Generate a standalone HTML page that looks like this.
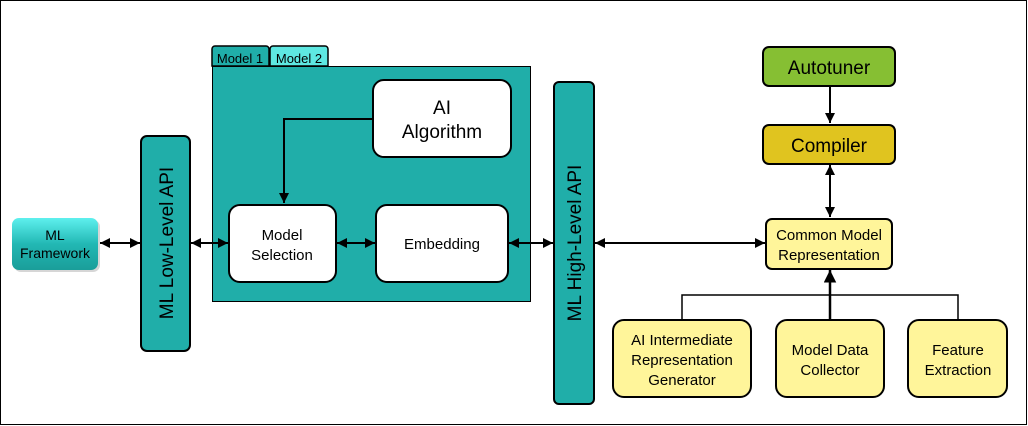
<!DOCTYPE html>
<html><head><meta charset="utf-8"><style>
html,body{margin:0;padding:0;background:#fff}
svg{display:block}
text{font-family:"Liberation Sans",Arial,sans-serif;fill:#000}
</style></head><body>
<svg width="1028" height="426" viewBox="0 0 1028 426" xmlns="http://www.w3.org/2000/svg">
<defs>
<marker id="a" viewBox="0 0 10 10" refX="10" refY="5" markerWidth="5" markerHeight="5" orient="auto-start-reverse"><path d="M0,0L10,5L0,10z" fill="#000"/></marker>
<linearGradient id="g" x1="0" y1="0" x2="0" y2="1"><stop offset="0" stop-color="#5ef0ee"/><stop offset="0.5" stop-color="#22b8b4"/><stop offset="1" stop-color="#1a9e9a"/></linearGradient>
</defs>
<rect x="0.5" y="0.5" width="1026" height="424" fill="#fff" stroke="#000"/>
<rect x="14" y="220" width="86" height="52" rx="7" fill="#999" opacity="0.4"/>
<rect x="12" y="218" width="86" height="52" rx="7" fill="url(#g)"/>
<text x="55" y="240" font-size="14" text-anchor="middle">ML</text>
<text x="55" y="258" font-size="14" text-anchor="middle">Framework</text>
<rect x="141" y="136" width="49" height="215" rx="6" fill="#20aea9" stroke="#000" stroke-width="2"/>
<text transform="translate(173,243) rotate(-90)" font-size="19" text-anchor="middle">ML Low-Level API</text>
<path d="M212,66V49a3,3 0 0 1 3,-3h51a3,3 0 0 1 3,3V66z" fill="#20aea9" stroke="#000" stroke-width="1.5"/>
<path d="M270,66V49a3,3 0 0 1 3,-3h52a3,3 0 0 1 3,3V66z" fill="#5ee8e2" stroke="#000" stroke-width="1.5"/>
<text x="240" y="63" font-size="13" text-anchor="middle">Model 1</text>
<text x="299" y="63" font-size="13" text-anchor="middle">Model 2</text>
<rect x="212.5" y="66.5" width="318" height="235" fill="#20aea9" stroke="#000"/>
<rect x="373" y="80" width="138" height="77" rx="11" fill="#fff" stroke="#000" stroke-width="2"/>
<text x="442" y="114" font-size="19" text-anchor="middle">AI</text>
<text x="442" y="138" font-size="19" text-anchor="middle">Algorithm</text>
<path d="M373,119H284V203" fill="none" stroke="#000" stroke-width="2" marker-end="url(#a)"/>
<rect x="229" y="205" width="107" height="77" rx="11" fill="#fff" stroke="#000" stroke-width="2"/>
<text x="282" y="240" font-size="15" text-anchor="middle">Model</text>
<text x="282" y="260" font-size="15" text-anchor="middle">Selection</text>
<rect x="376" y="205" width="132" height="77" rx="11" fill="#fff" stroke="#000" stroke-width="2"/>
<text x="442" y="249" font-size="15" text-anchor="middle">Embedding</text>
<rect x="554" y="82" width="40" height="322" rx="5" fill="#20aea9" stroke="#000" stroke-width="2"/>
<text transform="translate(581,243) rotate(-90)" font-size="19" text-anchor="middle">ML High-Level API</text>
<g stroke="#000" stroke-width="2" marker-start="url(#a)" marker-end="url(#a)">
<line x1="100" y1="243" x2="140" y2="243"/>
<line x1="191" y1="243" x2="228" y2="243"/>
<line x1="337" y1="243" x2="375" y2="243"/>
<line x1="509" y1="243" x2="553" y2="243"/>
<line x1="595" y1="243" x2="765" y2="243"/>
<line x1="830" y1="165" x2="830" y2="217"/>
</g>
<line x1="830" y1="86" x2="830" y2="123" stroke="#000" stroke-width="2" marker-end="url(#a)"/>
<rect x="763" y="47" width="132" height="39" rx="6" fill="#86bf33" stroke="#000" stroke-width="2"/>
<text x="829" y="74" font-size="19" text-anchor="middle">Autotuner</text>
<rect x="763" y="125" width="132" height="39" rx="6" fill="#e0c41f" stroke="#000" stroke-width="2"/>
<text x="829" y="152" font-size="19" text-anchor="middle">Compiler</text>
<rect x="766" y="219" width="126" height="50" rx="6" fill="#fff59a" stroke="#000" stroke-width="2"/>
<text x="829" y="240" font-size="15" text-anchor="middle">Common Model</text>
<text x="829" y="260" font-size="15" text-anchor="middle">Representation</text>
<path d="M682,320V295H958V320" fill="none" stroke="#000" stroke-width="1.5"/>
<line x1="830" y1="320" x2="830" y2="270" stroke="#000" stroke-width="2.5" marker-end="url(#a)"/>
<rect x="613" y="320" width="138" height="77" rx="11" fill="#fff59a" stroke="#000" stroke-width="2"/>
<text x="682" y="345" font-size="15" text-anchor="middle">AI Intermediate</text>
<text x="682" y="365" font-size="15" text-anchor="middle">Representation</text>
<text x="682" y="385" font-size="15" text-anchor="middle">Generator</text>
<rect x="776" y="320" width="108" height="77" rx="11" fill="#fff59a" stroke="#000" stroke-width="2"/>
<text x="830" y="355" font-size="15" text-anchor="middle">Model Data</text>
<text x="830" y="375" font-size="15" text-anchor="middle">Collector</text>
<rect x="908" y="320" width="99" height="77" rx="11" fill="#fff59a" stroke="#000" stroke-width="2"/>
<text x="958" y="355" font-size="15" text-anchor="middle">Feature</text>
<text x="958" y="375" font-size="15" text-anchor="middle">Extraction</text>
</svg>
</body></html>
